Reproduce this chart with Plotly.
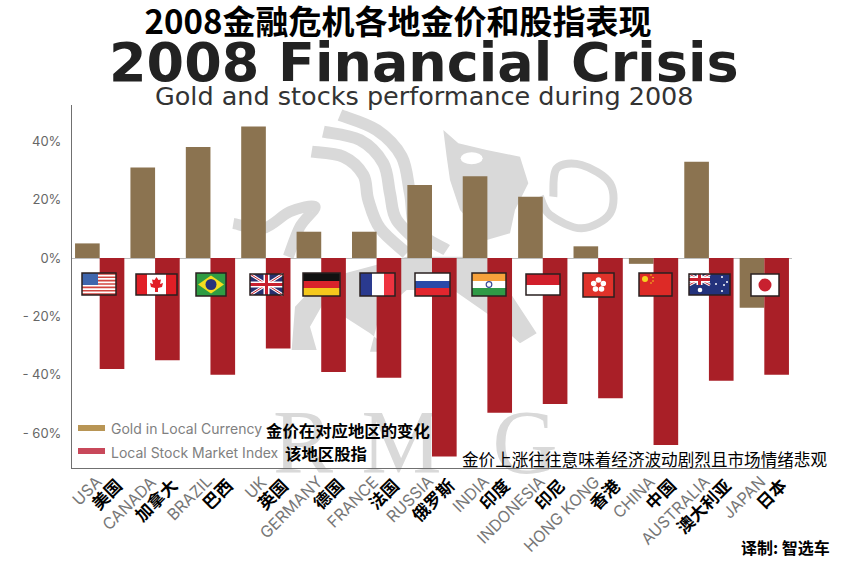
import plotly.graph_objects as go

W, H = 852, 567
L, R, T, B = 72, 792, 105, 468

countries = ["USA", "CANADA", "BRAZIL", "UK", "GERMANY", "FRANCE", "RUSSIA", "INDIA",
             "INDONESIA", "HONG KONG", "CHINA", "AUSTRALIA", "JAPAN"]
countries_zh = ["美国", "加拿大", "巴西", "英国", "德国", "法国", "俄罗斯", "印度",
                "印尼", "香港", "中国", "澳大利亚", "日本"]
gold = [5, 31, 38, 45, 9, 9, 25, 28, 21, 4, -2, 33, -17]
stocks = [-38, -35, -40, -31, -39, -41, -68, -53, -50, -48, -64, -42, -40]
tick_vals = [40, 20, 0, -20, -40, -60]
tick_text = ["40%", "20%", "0%", "- 20%", "- 40%", "- 60%"]
GOLD, RED, GREY, BG = "#8b7350", "#a91f27", "#707070", "#d9d9d9"
CJK = "Noto Sans CJK SC"
LATIN = "Inter"

shapes = []


def px(x, y):
    return (x - L) / (R - L), (B - y) / (B - T)


def rect(x0, y0, x1, y1, fill, line=None, lw=0, layer="above"):
    a, b = px(x0, y0)
    c, d = px(x1, y1)
    shapes.append(dict(type="rect", xref="paper", yref="paper", x0=a, y0=b, x1=c, y1=d, fillcolor=fill,
                       line=dict(color=line or fill, width=lw), layer=layer))


def path(points, fill=None, line=None, lw=0, layer="above", closed=True, smooth=False):
    pts = [px(*p) for p in points]
    if smooth:
        d = f"M{pts[0][0]},{pts[0][1]}"
        n = len(pts)
        for i in range(n - 1):
            p0, p1, p2, p3 = pts[max(i - 1, 0)], pts[i], pts[i + 1], pts[min(i + 2, n - 1)]
            c1 = (p1[0] + (p2[0] - p0[0]) / 6, p1[1] + (p2[1] - p0[1]) / 6)
            c2 = (p2[0] - (p3[0] - p1[0]) / 6, p2[1] - (p3[1] - p1[1]) / 6)
            d += f" C{c1[0]},{c1[1]} {c2[0]},{c2[1]} {p2[0]},{p2[1]}"
    else:
        d = "M" + " L".join(f"{a},{b}" for a, b in pts)
    if closed:
        d += " Z"
    shapes.append(dict(type="path", xref="paper", yref="paper", path=d, fillcolor=fill or "rgba(0,0,0,0)",
                       line=dict(color=line or "rgba(0,0,0,0)", width=lw), layer=layer))


def oval(cx, cy, rx, ry, fill=None, line=None, lw=0, layer="above"):
    a, b = px(cx - rx, cy - ry)
    c, d = px(cx + rx, cy + ry)
    shapes.append(dict(type="circle", xref="paper", yref="paper", x0=a, y0=b, x1=c, y1=d,
                       fillcolor=fill or "rgba(0,0,0,0)", line=dict(color=line or "rgba(0,0,0,0)", width=lw), layer=layer))


def z(x, y):  # watermark sketch coordinates
    return 220 + x / 3, 100 + y / 3


# ---- watermark ----
def stroke(pts, lw=11):
    path([z(*p) for p in pts], line=BG, lw=lw, layer="below", closed=False, smooth=True)


stroke([(360, 45), (470, 90), (545, 170), (570, 280), (590, 390), (680, 450)], 12)
stroke([(310, 95), (420, 120), (490, 190), (510, 280), (530, 360), (610, 440)], 12)
stroke([(275, 155), (370, 170), (430, 225), (445, 300), (480, 385), (560, 460)], 12)
stroke([(40, 370), (130, 385), (210, 335), (285, 320), (240, 380), (205, 470)], 11)
stroke([(1000, 290), (1010, 205), (1085, 195), (1170, 250), (1170, 340), (1085, 385), (990, 345), (960, 290)], 8)
path([z(*p) for p in [(670, 90), (715, 130), (800, 150), (900, 170), (925, 250), (885, 330), (870, 400),
                      (800, 420), (720, 330), (690, 240), (680, 170)]], fill=BG, layer="below")
oval(*z(755, 175), 11, 6, fill="white", layer="below")
path([z(*p) for p in [(215, 750), (225, 620), (300, 540), (560, 470), (800, 470), (950, 700), (900, 730),
                      (800, 640), (700, 570), (560, 570), (480, 640), (450, 755), (520, 755), (450, 700),
                      (310, 610), (270, 680), (290, 750)]], fill=BG, layer="below")

for letter, x0, x1 in [("R", 280, 326), ("M", 367, 436), ("G", 494, 556)]:
    a, b = px(x0, 400)
    c, d = px(x1, 465)
    shapes.append(dict(type="rect", xref="paper", yref="paper", x0=a, y0=b, x1=c, y1=d, layer="below",
                       fillcolor="rgba(0,0,0,0)", line=dict(width=0),
                       label=dict(text=letter, textposition="middle center",
                                  font=dict(family="Liberation Serif", size=90, color=BG))))

# ---- legend swatches ----
rect(78, 425, 105, 431, "#b89555")
rect(78, 448, 105, 454, "#c8485a")

# ---- flags ----
DK = "#2a2020"


def frame(x0, y0, x1, y1):
    rect(x0, y0, x1, y1, "rgba(0,0,0,0)", line=DK, lw=1.5)


def union(x0, y0, x1, y1):
    rect(x0, y0, x1, y1, "#27306f")
    path([(x0, y0), (x1, y1)], line="white", lw=3, closed=False)
    path([(x0, y1), (x1, y0)], line="white", lw=3, closed=False)
    path([(x0, y0), (x1, y1)], line="#c8202f", lw=1, closed=False)
    path([(x0, y1), (x1, y0)], line="#c8202f", lw=1, closed=False)
    mx, my = (x0 + x1) / 2, (y0 + y1) / 2
    rect(mx - 3, y0, mx + 3, y1, "white")
    rect(x0, my - 3, x1, my + 3, "white")
    rect(mx - 1.5, y0, mx + 1.5, y1, "#c8202f")
    rect(x0, my - 1.5, x1, my + 1.5, "#c8202f")


# USA
rect(82, 273, 116, 295, "white")
for i in range(7):
    rect(82, 273 + i * 22 / 6.5, 116, 273 + i * 22 / 6.5 + 22 / 13, "#d2453f")
rect(82, 273, 98, 285, "#3f66ad")
frame(82, 273, 116, 295)
# Canada
rect(136, 274, 177, 295, "white")
rect(136, 274, 147, 295, "#e11f26")
rect(166, 274, 177, 295, "#e11f26")
path([(156.5, 277), (158.5, 280), (161, 279.5), (160, 284), (163, 283), (162, 287), (158, 288), (158, 292), (155, 292),
      (155, 288), (151, 287), (150, 283), (153, 284), (152, 279.5), (154.5, 280)], fill="#e11f26")
frame(136, 274, 177, 295)
# Brazil
rect(196, 273, 226, 296, "#2f9c43")
path([(211, 275.5), (224, 284.5), (211, 293.5), (198, 284.5)], fill="#f4dd1f")
oval(211, 284.5, 5.5, 5.5, fill="#26337c")
frame(196, 273, 226, 296)
# UK
union(250, 274, 283, 295)
frame(250, 274, 283, 295)
# Germany
rect(303, 273, 340, 281, "#111111")
rect(303, 281, 340, 288, "#d9232b")
rect(303, 288, 340, 296, "#f5c81d")
frame(303, 273, 340, 296)
# France
rect(360, 273, 372, 296, "#2a3a8f")
rect(372, 273, 384, 296, "white")
rect(384, 273, 395, 296, "#ee3340")
frame(360, 273, 395, 296)
# Russia
rect(415, 273, 450, 281, "white")
rect(415, 281, 450, 288, "#2a4aa8")
rect(415, 288, 450, 296, "#e3262e")
frame(415, 273, 450, 296)
# India
rect(472, 273, 506, 281, "#f7a13b")
rect(472, 281, 506, 288, "white")
rect(472, 288, 506, 296, "#2f9a46")
oval(489, 284.5, 2.8, 2.8, line="#3a4a96", lw=1.2)
frame(472, 273, 506, 296)
# Indonesia
rect(526, 274, 560, 285, "#d11f2b")
rect(526, 285, 560, 295, "white")
frame(526, 274, 560, 295)
# Hong Kong
rect(583, 273, 614, 297, "#e0322a")
for dx, dy in [(0, -5), (4.8, -1.5), (3, 4), (-3, 4), (-4.8, -1.5)]:
    oval(598.5 + dx, 285 + dy, 2.8, 2.8, fill="white")
oval(598.5, 285, 2, 2, fill="#e0322a")
frame(583, 273, 614, 297)
# China
rect(639, 273, 672, 296, "#dd2a26")
oval(645, 279, 3, 3, fill="#f5d21f")
for dx, dy in [(6, -4), (8, -1.5), (8, 2), (6, 4)]:
    oval(645 + dx, 279 + dy, 0.8, 0.8, fill="#f5d21f")
frame(639, 273, 672, 296)
# Australia
rect(689, 274, 730, 295, "#23327c")
union(689, 274, 710, 285)
oval(700, 290, 2.3, 2.3, fill="white")
for cx, cy in [(716, 284), (722, 277), (722, 291), (727, 282), (724, 285)]:
    oval(cx, cy, 1, 1, fill="white")
frame(689, 274, 730, 295)
# Japan
rect(751, 274, 779, 296, "white")
oval(765, 285, 6.5, 6.5, fill="#c8202f")
frame(751, 274, 779, 296)

# ---- text ----
annotations = []


def note(text, x, y, size, family=CJK, color="black", anchor="center", bold=False):
    a, b = px(x, y)
    annotations.append(dict(text=f"<b>{text}</b>" if bold else text, xref="paper", yref="paper", x=a, y=b, showarrow=False,
                            xanchor=anchor, yanchor="middle", font=dict(size=size, family=family, color=color)))


note("2008 Financial Crisis", 424, 62, 54, family="DejaVu Sans", color="#222222", bold=True)
note("Gold and stocks performance during 2008", 424, 96, 25.5, family="DejaVu Sans", color="#333333")
note("Gold in Local Currency", 109, 428, 14, family=LATIN, color="#808080", anchor="left")
note("Local Stock Market Index", 109, 452, 14, family=LATIN, color="#808080", anchor="left")
note("金价在对应地区的变化", 264, 430, 16.4, anchor="left", bold=True)
note("该地区股指", 283, 453, 16.4, anchor="left", bold=True)
note("金价上涨往往意味着经济波动剧烈且市场情绪悲观", 460, 459, 16.6, anchor="left")
note("译制: 智选车", 739, 547, 16, anchor="left", bold=True)

for en, zh in zip(countries, countries_zh):
    annotations.append(dict(text=en, x=en, xref="x", y=0, yref="paper", yanchor="top", xanchor="right", yshift=-1, xshift=8,
                            textangle=-45, showarrow=False, font=dict(size=16, family=LATIN, color="#777777")))
    annotations.append(dict(text=f"<b>{zh}</b>", x=en, xref="x", y=0, yref="paper", yanchor="top", xanchor="right", yshift=-2, xshift=30,
                            textangle=-45, showarrow=False, font=dict(size=17, family=CJK, color="black")))

fig = go.Figure()
fig.add_bar(x=countries, y=gold, name="Gold in Local Currency", marker=dict(color=GOLD, line=dict(width=0)))
fig.add_bar(x=countries, y=stocks, name="Local Stock Market Index", marker=dict(color=RED, line=dict(width=0)))
fig.update_layout(
    width=W, height=H, margin=dict(l=L, r=W - R, t=T, b=H - B, pad=0), autosize=False,
    paper_bgcolor="white", plot_bgcolor="white", showlegend=False,
    barmode="group", bargap=0.11, bargroupgap=0,
    title=dict(text="<b>2008金融危机各地金价和股指表现</b>", x=398 / W, y=1 - 22 / H, xanchor="center", yanchor="middle",
               font=dict(family=CJK, size=33, color="black")),
    shapes=shapes, annotations=annotations,
    xaxis=dict(range=[-0.5, 12.5], showticklabels=False, ticks="", showgrid=False, zeroline=False, showline=True, linecolor=GREY, linewidth=1),
    yaxis=dict(range=[(258 - B) / 2.92, (258 - T) / 2.92], tickvals=tick_vals, ticktext=tick_text, ticks="outside",
               tickcolor="rgba(0,0,0,0)", ticklen=7, showgrid=False, zeroline=True, zerolinecolor="#bdbdbd", zerolinewidth=1,
               showline=True, linecolor=GREY, linewidth=1, tickfont=dict(family=LATIN, size=13, color="#666666")),
)
fig.write_html("out.html", config=dict(displayModeBar=False), post_script="document.body.style.margin='0';")
